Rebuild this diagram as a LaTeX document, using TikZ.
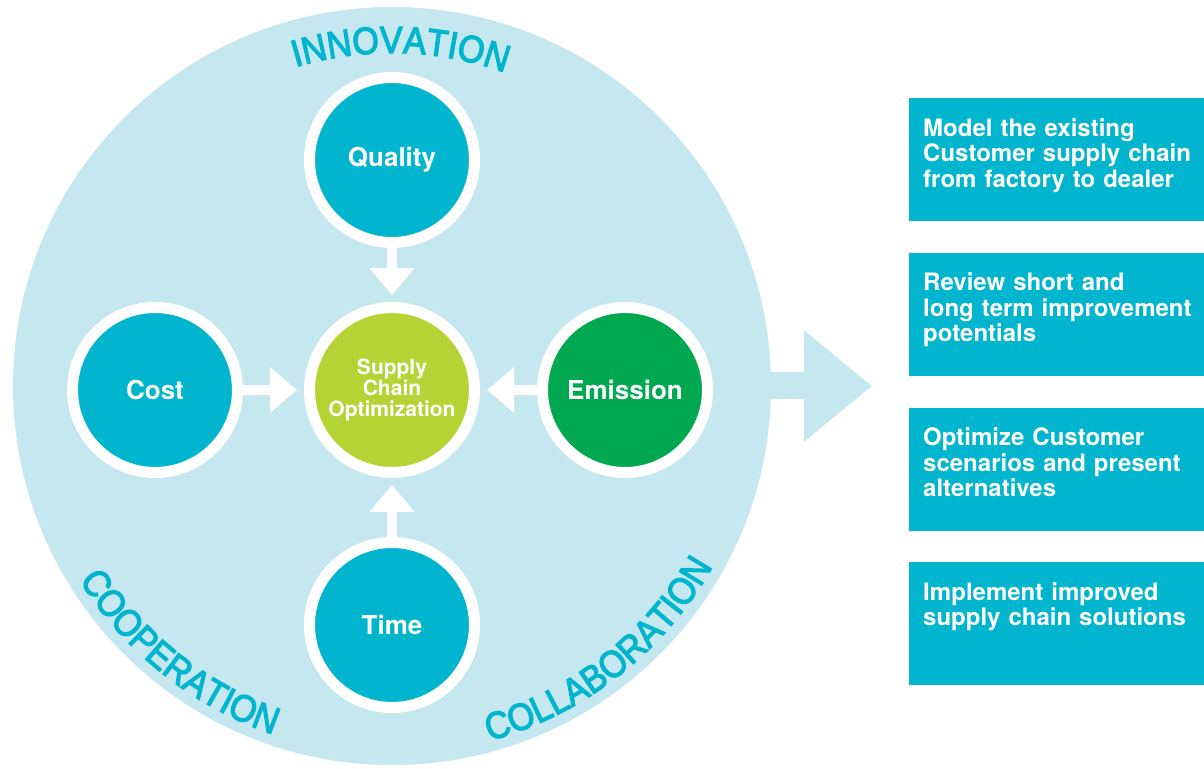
\documentclass[tikz,border=0pt]{standalone}
\usepackage{fontspec}
\setmainfont{TeX Gyre Heros}
\newfontfamily\arcfont[FakeStretch=0.9, FakeBold=3]{Liberation Sans}
\usetikzlibrary{positioning,arrows.meta,decorations.text}
\definecolor{ringblue}{HTML}{C5E7EF}
\definecolor{scteal}{HTML}{00B5CD}
\definecolor{scglime}{HTML}{B5D334}
\definecolor{emgreen}{HTML}{00A94F}

\begin{document}
\begin{tikzpicture}[x=1pt, y=1pt,
factor/.style={circle, draw=white, line width=11pt, minimum size=165pt, inner sep=0pt, fill=scteal, text=white, font=\fontsize{26}{30}\selectfont\bfseries},
feed/.style={draw=white, line width=10pt, -{Triangle[length=27pt, width=44pt]}, shorten >=7pt},
arctext/.style={decorate, decoration={text along path, text align=center, text color=scteal, text={|\arcfont\fontsize{38}{38}\selectfont|#1}}},
taskbox/.style={rectangle, fill=scteal, text=white, text width=290pt, inner xsep=14pt, inner ysep=8pt, text height=30pt, text depth=77pt, align=left, font=\fontsize{24}{25.5}\selectfont\bfseries}]

\useasboundingbox (0,0) rectangle (1204,768);

\node[circle, fill=ringblue, minimum size=758pt, inner sep=0pt] (ring) at (392,382) {};

\path[arctext=INNOVATION] (ring.center) ++(133.5:333) arc[start angle=133.5, end angle=43.5, radius=333];
\path[arctext=COOPERATION] (ring.center) ++(186.5:368) arc[start angle=186.5, end angle=276.5, radius=368];
\path[arctext=COLLABORATION] (ring.center) ++(263:368) arc[start angle=263, end angle=353, radius=368];

\node[factor, fill=scglime, font=\fontsize{21}{21}\selectfont\bfseries, align=center] (sco) at (392,378) {Supply\\Chain\\Optimization};
\node[factor, above=54pt of sco] (quality) {Quality};
\node[factor, below=59pt of sco] (time) {Time};
\node[factor, left=61pt of sco] (cost) {Cost};
\node[factor, right=57pt of sco, fill=emgreen] (emission) {Emission};

\draw[feed] (quality) -- (sco);
\draw[feed] (time) -- (sco);
\draw[feed] (cost) -- (sco);
\draw[feed] (emission) -- (sco);

\coordinate (goal) at (872,382);
\draw[ringblue, line width=27pt, -{Triangle[length=68pt, width=107pt]}] (ring.east) -- (goal);

\node[taskbox, anchor=north west] (model) at (909,670) {Model the existing\\Customer supply chain\\from factory to dealer};
\node[taskbox, below=31pt of model] (review) {Review short and\\long term improvement\\potentials};
\node[taskbox, below=32pt of review] (optimize) {Optimize Customer\\scenarios and present\\alternatives};
\node[taskbox, below=31pt of optimize] (implement) {Implement improved\\supply chain solutions};
\end{tikzpicture}
\end{document}
